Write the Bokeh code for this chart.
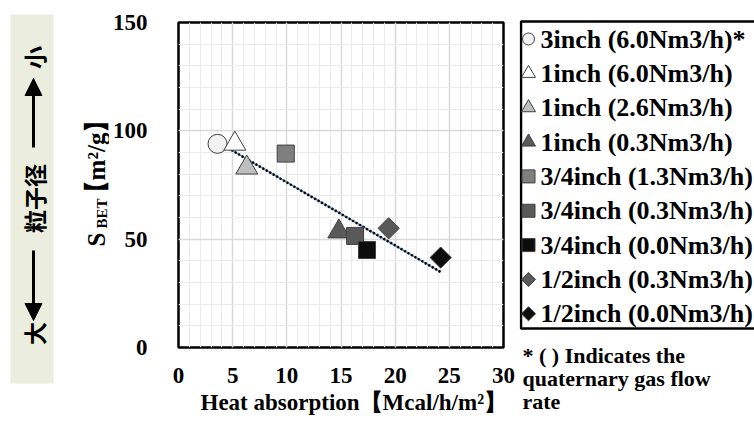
import numpy as np
from bokeh.plotting import figure
from bokeh.models import Range1d, FixedTicker, Arrow, NormalHead, Title
from bokeh.layouts import row
from bokeh.embed import file_html
from bokeh.resources import INLINE
from bokeh.core.properties import value

# ---------------- data ----------------
series_labels = ["3inch (6.0Nm3/h)*", "1inch (6.0Nm3/h)", "1inch (2.6Nm3/h)",
                 "1inch (0.3Nm3/h)", "3/4inch (1.3Nm3/h)", "3/4inch (0.3Nm3/h)",
                 "3/4inch (0.0Nm3/h)", "1/2inch (0.3Nm3/h)", "1/2inch (0.0Nm3/h)"]
heat_absorption = [3.6, 5.2, 6.3, 14.8, 9.9, 16.3, 17.4, 19.4, 24.2]
s_bet = [94.0, 94.0, 83.0, 53.5, 89.5, 51.5, 45.0, 55.0, 41.5]
marker_kind = ["circle", "triangle", "triangle", "triangle", "square", "square",
               "square", "diamond", "diamond"]
fill_colors = ["#f2f2f2", "#ffffff", "#bfbfbf", "#595959", "#7f7f7f", "#595959",
               "#0d0d0d", "#595959", "#0d0d0d"]
x_ticks = [0, 5, 10, 15, 20, 25, 30]
y_ticks = [0, 50, 100, 150]
x_minor = list(range(0, 31, 1))
y_minor = list(range(0, 151, 10))
x_title = "Heat absorption【Mcal/h/m²】"
footnote = ["* ( ) Indicates the", "quaternary gas flow", "rate"]

SERIF = "Liberation Serif"
CJK = "Noto Sans CJK JP"
H = 425

main_marker = {"circle": ("circle", 19, 0.0), "triangle": ("triangle", 22, 0.0),
               "square": ("square", 17, 0.0), "diamond": ("square", 15, np.pi / 4)}
leg_marker = {"circle": ("circle", 12, 0.0), "triangle": ("triangle", 14, 0.0),
              "square": ("square", 13, 0.0), "diamond": ("square", 10, np.pi / 4)}


def blank(w, h):
    f = figure(width=w, height=h, x_range=Range1d(0, w), y_range=Range1d(h, 0),
               output_backend="svg", toolbar_location=None, min_border=0,
               frame_align=False)
    f.axis.visible = False
    f.grid.visible = False
    f.outline_line_color = None
    return f


# ---------------- left panel (particle size arrow + y label) ----------------
LW = 109
left = blank(LW, H)
left.quad(left=10, right=53, top=14, bottom=383, fill_color="#ebeedf", line_color=None)
cx = 33
left.text(x=[cx, cx, cx], y=[57, 198, 333], text=["小", "粒子径", "大"], angle=np.pi / 2,
          text_align="center", text_baseline="middle", text_font=value(CJK),
          text_font_style="bold", text_font_size="23px", text_color="black")
left.add_layout(Arrow(end=NormalHead(size=17, fill_color="black", line_color="black"),
                      x_start=cx, y_start=147, x_end=cx, y_end=78, line_width=3,
                      line_color="black"))
left.add_layout(Arrow(end=NormalHead(size=17, fill_color="black", line_color="black"),
                      x_start=cx, y_start=250, x_end=cx, y_end=320, line_width=3,
                      line_color="black"))
# y label: S_BET【m²/g】 (rotated, reading upward)
left.text(x=[96], y=[239], text=["S"], angle=np.pi / 2, text_align="center",
          text_baseline="alphabetic", text_font=value(SERIF), text_font_style="bold",
          text_font_size="25px", text_color="black")
left.text(x=[101], y=[213], text=["BET"], angle=np.pi / 2, text_align="center",
          text_baseline="alphabetic", text_font=value(SERIF), text_font_style="bold",
          text_font_size="15px", text_color="black")
left.text(x=[96], y=[156], text=["【m²/g】"], angle=np.pi / 2, text_align="center",
          text_baseline="alphabetic", text_font=value(SERIF), text_font_style="bold",
          text_font_size="25px", text_color="black")

# ---------------- main plot ----------------
MW = 519 - LW
p = figure(width=MW, height=H, x_range=Range1d(0, 30), y_range=Range1d(0, 150),
           output_backend="svg", toolbar_location=None, frame_align=False,
           min_border_left=68, min_border_right=16, min_border_top=22, min_border_bottom=78)
p.xaxis.ticker = FixedTicker(ticks=x_ticks, minor_ticks=x_minor)
p.yaxis.ticker = FixedTicker(ticks=y_ticks, minor_ticks=y_minor)
for ax in (p.xaxis, p.yaxis):
    ax.axis_line_color = None
    ax.major_tick_line_color = None
    ax.minor_tick_line_color = None
    ax.major_label_text_font = SERIF
    ax.major_label_text_font_style = "bold"
    ax.major_label_text_font_size = "23px"
    ax.major_label_text_color = "black"
p.yaxis.major_label_standoff = 25
p.xaxis.major_label_standoff = 14
p.grid.grid_line_color = "#d9d9d9"
p.grid.grid_line_width = 1.5
p.grid.minor_grid_line_color = "#ebebeb"
p.grid.minor_grid_line_width = 1
p.outline_line_color = "black"
p.outline_line_width = 2.5

# trend line (least squares)
xs = np.array(heat_absorption)
ys = np.array(s_bet)
k, b = np.polyfit(xs, ys, 1)
tx = np.array([xs.min(), xs.max()])
p.line(tx, k * tx + b, line_color="#4f81bd", line_width=1.5)
p.line(tx, k * tx + b, line_color="black", line_width=2.5, line_dash="2 2")

for i in range(len(heat_absorption)):
    m, s, a = main_marker[marker_kind[i]]
    p.scatter([heat_absorption[i]], [s_bet[i]], marker=m, size=s, angle=a,
              fill_color=fill_colors[i], line_color="#404040", line_width=1)

p.add_layout(Title(text=x_title, align="left", offset=22, standoff=4,
                   text_font=SERIF, text_font_style="bold", text_font_size="23px",
                   text_color="black"), "below")

# ---------------- legend panel ----------------
RW = 754 - 519
lg = blank(RW, H)
lg.quad(left=1.5, right=RW + 20, top=21, bottom=328, fill_color="white",
        line_color="black", line_width=2.5)
row_y = [38.5 + 34.35 * i for i in range(len(series_labels))]
for i in range(len(series_labels)):
    m, s, a = leg_marker[marker_kind[i]]
    lg.scatter([9], [row_y[i]], marker=m, size=s, angle=a, fill_color=fill_colors[i],
               line_color="#404040", line_width=1)
lg.text(x=[21] * len(series_labels), y=row_y, text=series_labels, text_align="left",
        text_baseline="middle", text_font=value(SERIF), text_font_style="bold",
        text_font_size="26px", text_color="black")
lg.text(x=[3] * len(footnote), y=[355 + 23 * i for i in range(len(footnote))],
        text=footnote, text_align="left", text_baseline="middle", text_font=value(SERIF),
        text_font_style="bold", text_font_size="22px", text_color="black")

layout = row(left, p, lg, spacing=0)
open("out.html", "w").write(file_html(layout, INLINE))
